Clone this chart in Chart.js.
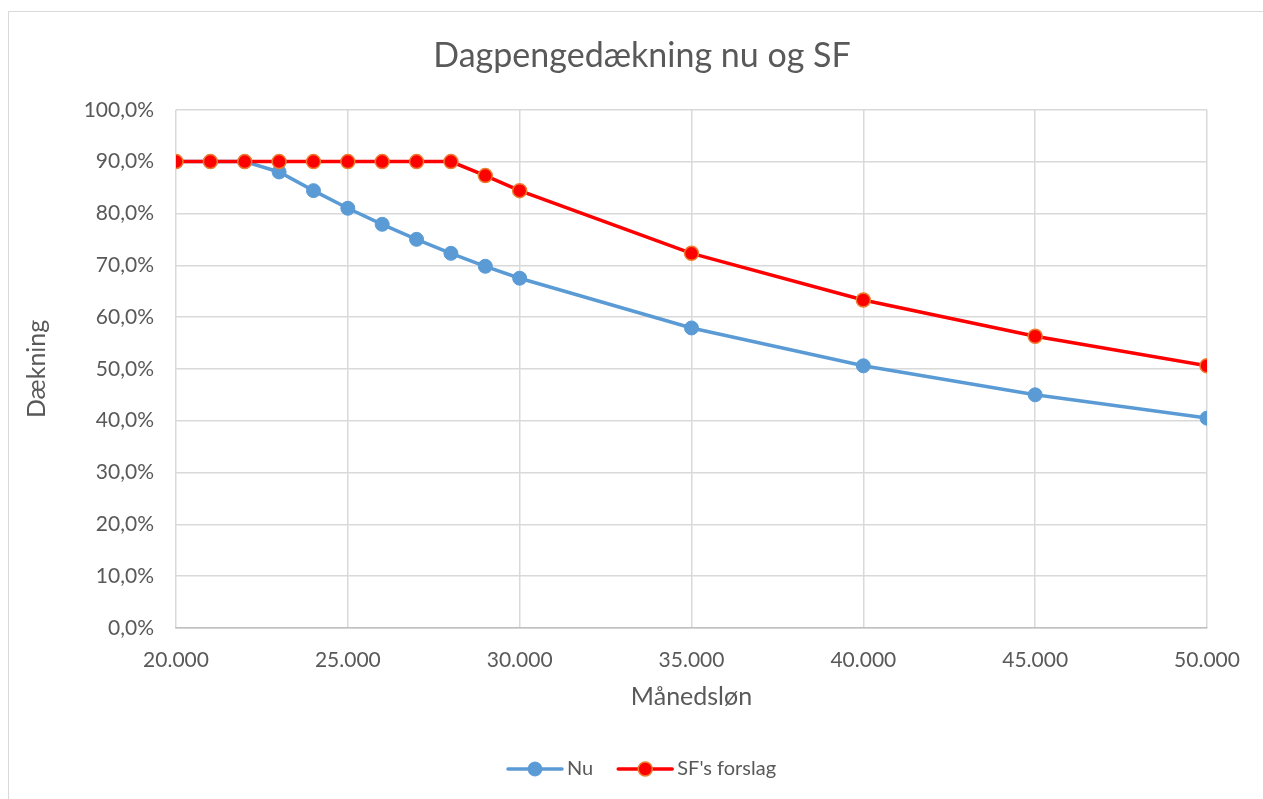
<!DOCTYPE html>
<html>
<head>
<meta charset="utf-8">
<script src="https://cdn.jsdelivr.net/npm/chart.js@4"></script>
<style>
  html, body { margin: 0; padding: 0; background: #fff; }
  #wrap { position: relative; width: 1263px; height: 799px; overflow: hidden; }
  #frame { position: absolute; left: 8px; top: 11px; width: 1300px; height: 900px; border: 1px solid #D9D9D9; box-sizing: border-box; }
  canvas { position: absolute; left: 0; top: 0; }
</style>
</head>
<body>
<div id="wrap">
  <div id="frame"></div>
  <canvas id="chart" width="1263" height="799"></canvas>
</div>
<script>
const wages = [20000, 21000, 22000, 23000, 24000, 25000, 26000, 27000, 28000, 29000, 30000, 35000, 40000, 45000, 50000];
const nu = [90, 90, 90, 88.0, 84.4, 81.0, 77.9, 75.0, 72.3, 69.8, 67.5, 57.9, 50.6, 45.0, 40.5];
const sfForslag = [90, 90, 90, 90, 90, 90, 90, 90, 90, 87.3, 84.4, 72.3, 63.3, 56.3, 50.6];

const FONT = "Lato, 'Open Sans', sans-serif";
const GREY = "#595959";

function fmtThousands(v) {
    return String(v).replace(/\B(?=(\d{3})+(?!\d))/g, ".");
}

// legend drawn by hand so each entry shows line + marker like the original
const lineLegend = {
    id: "lineLegend",
    afterDraw(chart) {
        const ctx = chart.ctx;
        const y = 769;
        let x = 508;
        const items = [chart.data.datasets[0], chart.data.datasets[1]];
        ctx.save();
        ctx.font = "20px " + FONT;
        ctx.textBaseline = "middle";
        items.forEach((ds) => {
            ctx.strokeStyle = ds.borderColor;
            ctx.lineWidth = 3.5;
            ctx.lineCap = "round";
            ctx.beginPath();
            ctx.moveTo(x, y);
            ctx.lineTo(x + 54, y);
            ctx.stroke();
            ctx.beginPath();
            ctx.arc(x + 27, y, 7, 0, Math.PI * 2);
            ctx.fillStyle = ds.pointBackgroundColor;
            ctx.fill();
            ctx.lineWidth = ds.pointBorderWidth;
            ctx.strokeStyle = ds.pointBorderColor;
            ctx.stroke();
            ctx.fillStyle = GREY;
            ctx.fillText(ds.label, x + 59, y);
            x += 59 + ctx.measureText(ds.label).width + 25;
        });
        ctx.restore();
    },
};

const ctx = document.getElementById("chart").getContext("2d");
new Chart(ctx, {
    type: "line",
    data: {
        datasets: [
            {
                label: "Nu",
                data: wages.map((w, i) => ({ x: w, y: nu[i] })),
                borderColor: "#5B9BD5",
                borderWidth: 3.5,
                pointRadius: 7,
                pointBackgroundColor: "#5B9BD5",
                pointBorderColor: "#5B9BD5",
                pointBorderWidth: 1,
                tension: 0,
                order: 2,
            },
            {
                label: "SF's forslag",
                data: wages.map((w, i) => ({ x: w, y: sfForslag[i] })),
                borderColor: "#FF0000",
                borderWidth: 3.5,
                pointRadius: 7,
                pointBackgroundColor: "#FF0000",
                pointBorderColor: "#ED7D31",
                pointBorderWidth: 1.5,
                tension: 0,
                order: 1,
            },
        ],
    },
    options: {
        responsive: false,
        animation: false,
        layout: { padding: { left: 21, right: 0, top: 16, bottom: 80 } },
        plugins: {
            legend: { display: false },
            tooltip: { enabled: false },
            title: {
                display: true,
                text: "Dagpengedækning nu og SF",
                color: GREY,
                font: { family: FONT, size: 34, weight: "normal" },
                padding: { top: 20, bottom: 33 },
            },
        },
        scales: {
            x: {
                type: "linear",
                min: 20000,
                max: 50000,
                afterFit: (s) => { s.height = 91; },
                grid: { color: "#D9D9D9", lineWidth: 1.5, drawTicks: false },
                border: { color: "#BFBFBF", width: 1.5 },
                ticks: {
                    stepSize: 5000,
                    padding: 20,
                    color: GREY,
                    font: { family: FONT, size: 21 },
                    callback: (v) => fmtThousands(v),
                },
                title: {
                    display: true,
                    text: "Månedsløn",
                    color: GREY,
                    font: { family: FONT, size: 25 },
                    padding: { top: 0, bottom: 7 },
                },
            },
            y: {
                min: 0,
                max: 100,
                afterFit: (s) => { s.width = 155; },
                grid: { color: "#D9D9D9", lineWidth: 1.5, drawTicks: false },
                border: { display: false },
                ticks: {
                    stepSize: 10,
                    padding: 22,
                    color: GREY,
                    font: { family: FONT, size: 21 },
                    callback: (v) => v.toFixed(1).replace(".", ",") + "%",
                },
                title: {
                    display: true,
                    text: "Dækning",
                    color: GREY,
                    font: { family: FONT, size: 25 },
                    padding: { top: 1, bottom: 0 },
                },
            },
            // empty right-hand axis that only reserves the margin on the right
            spacer: {
                position: "right",
                afterFit: (s) => { s.width = 56; },
                grid: { display: false },
                border: { display: false },
                ticks: { display: false },
            },
        },
    },
    plugins: [lineLegend],
});
</script>
</body>
</html>
